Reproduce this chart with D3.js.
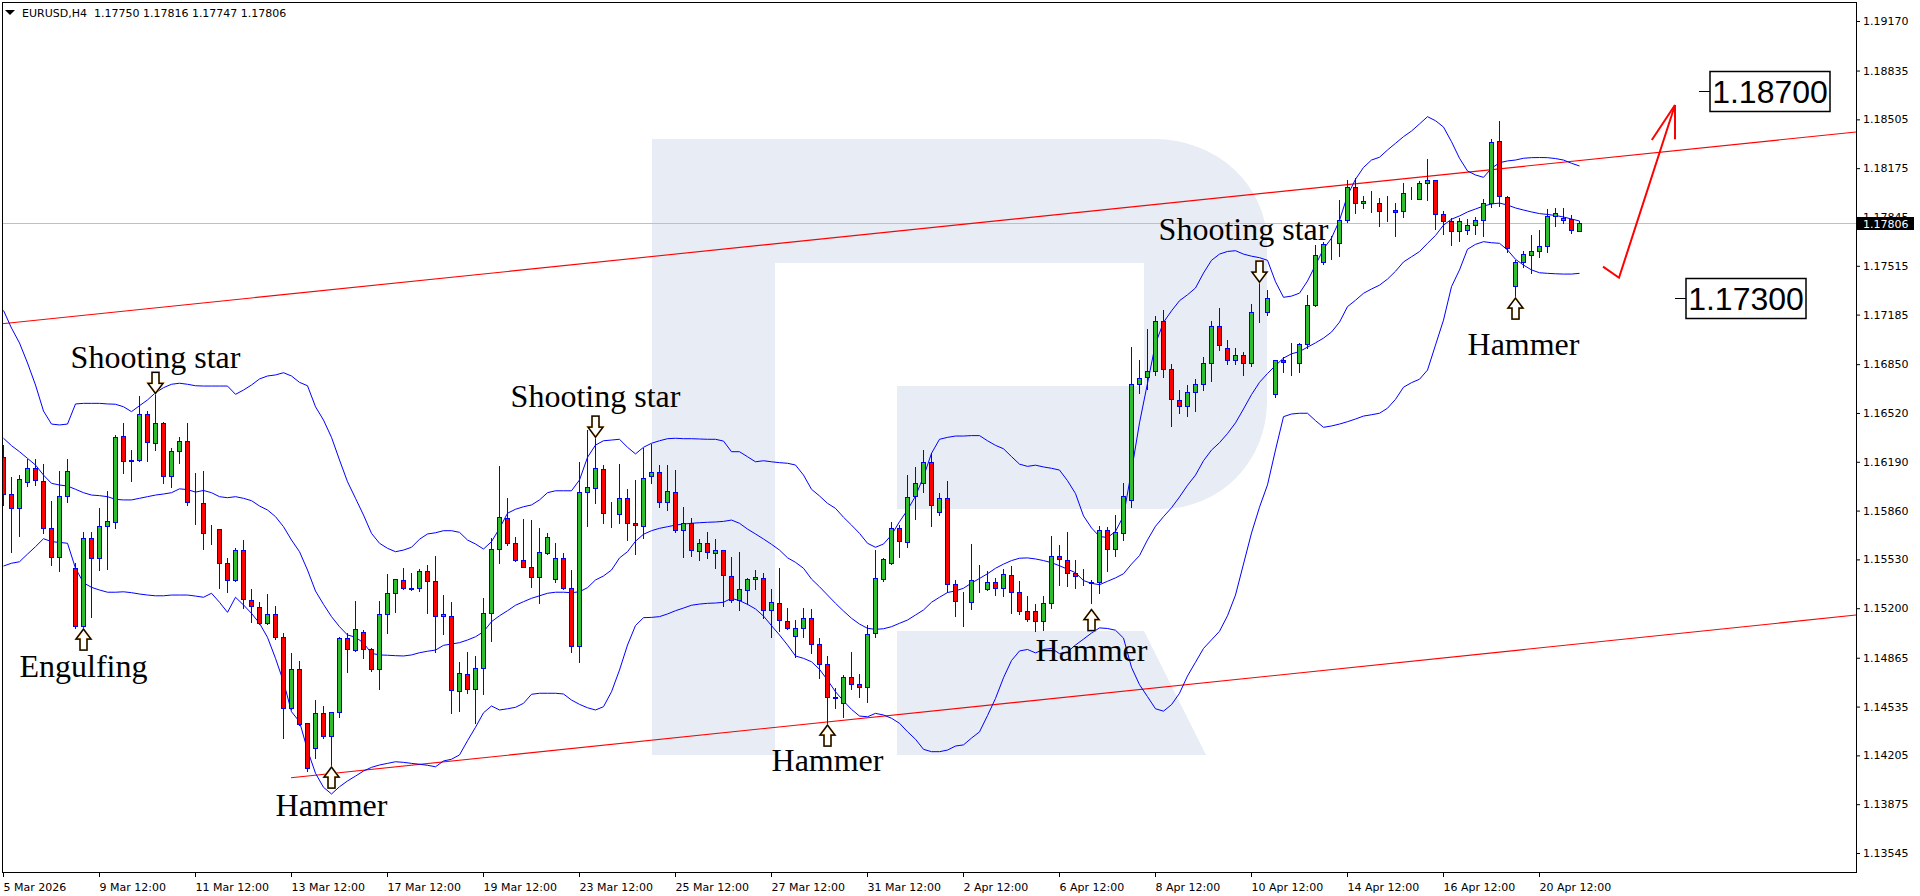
<!DOCTYPE html>
<html>
<head>
<meta charset="utf-8">
<title>EURUSD H4</title>
<script src="https://cdn.jsdelivr.net/npm/d3@7/dist/d3.min.js"></script>
<style>
html,body{margin:0;padding:0;background:#ffffff;overflow:hidden;}
svg{display:block;}
</style>
</head>
<body>
<svg id="chart" width="1920" height="896"></svg>
<script>
// ---------------- DATA ----------------
const symbolName = "EURUSD,H4";
const xTickLabels = ["5 Mar 2026","9 Mar 12:00","11 Mar 12:00","13 Mar 12:00","17 Mar 12:00","19 Mar 12:00","23 Mar 12:00","25 Mar 12:00","27 Mar 12:00","31 Mar 12:00","2 Apr 12:00","6 Apr 12:00","8 Apr 12:00","10 Apr 12:00","14 Apr 12:00","16 Apr 12:00","20 Apr 12:00"];
const xTickBars = [0,12,24,36,48,60,72,84,96,108,120,132,144,156,168,180,192];
const yTickValues = [1.19170,1.18835,1.18505,1.18175,1.17845,1.17515,1.17185,1.16850,1.16520,1.16190,1.15860,1.15530,1.15200,1.14865,1.14535,1.14205,1.13875,1.13545];

const open = [1.16224,1.15970,1.15875,1.16051,1.16146,1.16058,1.15740,1.15544,1.15959,1.15470,
1.15082,1.15673,1.15537,1.15754,1.15781,1.16362,1.16202,1.16202,1.16511,1.16315,
1.16450,1.16094,1.16263,1.16330,1.15918,1.15909,1.15710,1.15733,1.15503,1.15391,
1.15591,1.15255,1.15210,1.15098,1.15159,1.15003,1.14523,1.14787,1.14422,1.14253,
1.14489,1.14338,1.14496,1.14996,1.14917,1.15041,1.14922,1.14787,1.15159,1.15301,
1.15391,1.15334,1.15334,1.15451,1.15384,1.15147,1.15149,1.14642,1.14755,1.14652,
1.14794,1.15170,1.15598,1.15808,1.15643,1.15526,1.15481,1.15409,1.15571,1.15395,
1.15537,1.15334,1.14944,1.15988,1.16015,1.16141,1.15839,1.15835,1.15943,1.15774,
1.15756,1.16094,1.16119,1.15916,1.15984,1.15729,1.15778,1.15587,1.15639,1.15571,
1.15591,1.15418,1.15255,1.15323,1.15395,1.15402,1.15188,1.15233,1.15115,1.15014,
1.15064,1.15132,1.14956,1.14821,1.14598,1.14557,1.14737,1.14685,1.14665,1.15030,
1.15395,1.15503,1.15740,1.15645,1.15959,1.16044,1.16186,1.15852,1.15947,1.15366,
1.15243,1.15243,1.15389,1.15328,1.15375,1.15335,1.15422,1.15308,1.15184,1.15184,
1.15114,1.15238,1.15550,1.15529,1.15440,1.15377,1.15375,1.15375,1.15727,1.15598,
1.15708,1.15929,1.16714,1.16760,1.16807,1.17140,1.16814,1.16609,1.16570,1.16662,
1.16716,1.16856,1.17105,1.16961,1.16877,1.16914,1.16861,1.17205,1.17201,1.16648,
1.16878,1.16858,1.16856,1.16984,1.17250,1.17543,1.17662,1.17667,1.17825,1.18050,
1.17938,1.17938,1.17938,1.17890,1.17894,1.17885,1.18000,1.17969,1.18073,1.18095,
1.17863,1.17818,1.17750,1.17757,1.17791,1.17825,1.17938,1.18359,1.17982,1.17378,
1.17543,1.17588,1.17615,1.17651,1.17854,1.17827,1.17831,1.17750];

const high = [1.16303,1.16089,1.16100,1.16207,1.16207,1.16173,1.15925,1.16128,1.16207,1.15503,
1.15717,1.15717,1.15875,1.15992,1.16371,1.16454,1.16270,1.16635,1.16535,1.16657,
1.16461,1.16281,1.16355,1.16454,1.16112,1.16128,1.15762,1.15737,1.15537,1.15605,
1.15661,1.15328,1.15240,1.15296,1.15217,1.15030,1.14895,1.14843,1.14426,1.14579,
1.14539,1.14500,1.15008,1.15034,1.15251,1.15053,1.14929,1.15251,1.15431,1.15399,
1.15470,1.15440,1.15465,1.15492,1.15553,1.15289,1.15244,1.14834,1.14906,1.14877,
1.15267,1.15673,1.16161,1.15943,1.15683,1.15801,1.15796,1.15740,1.15710,1.15639,
1.15575,1.15458,1.16190,1.16405,1.16355,1.16168,1.15920,1.16175,1.16004,1.16067,
1.16281,1.16308,1.16168,1.16168,1.16134,1.15886,1.15808,1.15666,1.15717,1.15666,
1.15593,1.15548,1.15578,1.15402,1.15458,1.15436,1.15330,1.15470,1.15199,1.15120,
1.15203,1.15192,1.14996,1.14877,1.14658,1.14748,1.14906,1.14753,1.15086,1.15593,
1.15537,1.15785,1.15762,1.16100,1.16157,1.16270,1.16247,1.15981,1.16062,1.15389,
1.15312,1.15633,1.15494,1.15451,1.15405,1.15464,1.15487,1.15382,1.15282,1.15230,
1.15284,1.15690,1.15627,1.15712,1.15527,1.15464,1.15391,1.15759,1.15750,1.15829,
1.16046,1.16965,1.16877,1.17086,1.17175,1.17217,1.16854,1.16674,1.16709,1.16751,
1.16896,1.17140,1.17233,1.17012,1.16961,1.16930,1.17257,1.17396,1.17351,1.16878,
1.16896,1.16991,1.16995,1.17318,1.17656,1.17678,1.17716,1.17960,1.18095,1.18107,
1.17987,1.18023,1.17971,1.17987,1.17938,1.18077,1.18046,1.18090,1.18235,1.18096,
1.17885,1.17836,1.17836,1.17829,1.17847,1.17964,1.18370,1.18494,1.17987,1.17554,
1.17615,1.17723,1.17757,1.17897,1.17904,1.17904,1.17858,1.17816];

const low = [1.15898,1.15582,1.15690,1.16028,1.16033,1.15710,1.15492,1.15453,1.15920,1.15064,
1.15075,1.15143,1.15458,1.15465,1.15744,1.16112,1.16062,1.16197,1.16197,1.16270,
1.16049,1.16021,1.16184,1.15898,1.15769,1.15598,1.15634,1.15334,1.15311,1.15386,
1.15199,1.15109,1.15091,1.15093,1.14990,1.14320,1.14516,1.14410,1.14101,1.14185,
1.14320,1.14120,1.14466,1.14771,1.14913,1.14861,1.14777,1.14652,1.15030,1.15176,
1.15328,1.15323,1.15318,1.15170,1.14906,1.15023,1.14489,1.14507,1.14625,1.14422,
1.14618,1.14980,1.15503,1.15627,1.15521,1.15476,1.15345,1.15237,1.15566,1.15379,
1.15328,1.14906,1.14838,1.15758,1.15909,1.15778,1.15751,1.15778,1.15661,1.15566,
1.15673,1.16044,1.15886,1.15864,1.15713,1.15548,1.15555,1.15526,1.15541,1.15470,
1.15215,1.15244,1.15188,1.15228,1.15330,1.15132,1.15007,1.15048,1.15059,1.14868,
1.15007,1.14899,1.14726,1.14426,1.14527,1.14466,1.14652,1.14598,1.14568,1.15003,
1.15386,1.15499,1.15548,1.15616,1.15801,1.15988,1.15758,1.15830,1.15311,1.15149,
1.15079,1.15196,1.15312,1.15323,1.15289,1.15284,1.15165,1.15161,1.15114,1.15045,
1.15056,1.15202,1.15359,1.15347,1.15335,1.15359,1.15238,1.15301,1.15451,1.15556,
1.15661,1.15883,1.16658,1.16681,1.16775,1.16760,1.16430,1.16523,1.16499,1.16535,
1.16674,1.16739,1.16946,1.16849,1.16854,1.16775,1.16838,1.17133,1.17182,1.16630,
1.16799,1.16777,1.16799,1.16957,1.17245,1.17527,1.17559,1.17581,1.17813,1.17870,
1.17904,1.17881,1.17784,1.17820,1.17716,1.17843,1.17964,1.17964,1.17960,1.17762,
1.17728,1.17656,1.17683,1.17730,1.17728,1.17716,1.17915,1.17919,1.17610,1.17306,
1.17509,1.17468,1.17576,1.17610,1.17784,1.17806,1.17735,1.17747];

const close = [1.15972,1.15875,1.16071,1.16146,1.16067,1.15740,1.15544,1.15959,1.16125,1.15082,
1.15673,1.15537,1.15754,1.15787,1.16355,1.16195,1.16197,1.16511,1.16322,1.16450,
1.16094,1.16263,1.16330,1.15916,1.15916,1.15706,1.15708,1.15503,1.15391,1.15591,
1.15260,1.15215,1.15098,1.15159,1.15003,1.14523,1.14787,1.14415,1.14122,1.14489,
1.14338,1.14496,1.14996,1.14922,1.15057,1.14922,1.14787,1.15159,1.15301,1.15395,
1.15339,1.15332,1.15451,1.15384,1.15147,1.15159,1.14647,1.14760,1.14652,1.14794,
1.15170,1.15598,1.15815,1.15643,1.15526,1.15481,1.15409,1.15582,1.15683,1.15537,
1.15334,1.14944,1.15988,1.16017,1.16146,1.15842,1.15837,1.15943,1.15774,1.15760,
1.16078,1.16119,1.15916,1.15992,1.15729,1.15778,1.15593,1.15639,1.15578,1.15591,
1.15424,1.15255,1.15328,1.15395,1.15409,1.15188,1.15240,1.15120,1.15064,1.15064,
1.15132,1.14956,1.14821,1.14598,1.14595,1.14737,1.14685,1.14665,1.15023,1.15402,
1.15531,1.15740,1.15654,1.15954,1.16044,1.16186,1.15898,1.15947,1.15364,1.15247,
1.15241,1.15389,1.15390,1.15377,1.15335,1.15428,1.15308,1.15184,1.15130,1.15114,
1.15238,1.15550,1.15534,1.15440,1.15417,1.15376,1.15372,1.15731,1.15598,1.15712,
1.15957,1.16714,1.16756,1.16807,1.17140,1.16814,1.16612,1.16565,1.16662,1.16716,
1.16856,1.17105,1.16977,1.16879,1.16914,1.16856,1.17205,1.17203,1.17295,1.16878,
1.16863,1.16857,1.16984,1.17250,1.17588,1.17662,1.17663,1.17825,1.18046,1.17938,
1.17955,1.17937,1.17885,1.17889,1.17879,1.18005,1.18001,1.18073,1.18095,1.17865,
1.17818,1.17750,1.17820,1.17791,1.17825,1.17938,1.18350,1.17987,1.17633,1.17543,
1.17593,1.17615,1.17649,1.17854,1.17870,1.17838,1.17757,1.17806];

// Bollinger bands (20, 2)
const bbUpper = [1.17213,1.17094,1.16993,1.16858,1.16709,1.16533,1.16445,1.16439,1.16445,1.16581,
1.16585,1.16585,1.16585,1.16581,1.16579,1.16562,1.16529,1.16569,1.16608,1.16657,
1.16691,1.16714,1.16721,1.16714,1.16704,1.16702,1.16702,1.16702,1.16702,1.16646,
1.16675,1.16709,1.16750,1.16770,1.16777,1.16792,1.16770,1.16727,1.16704,1.16562,
1.16472,1.16355,1.16202,1.16055,1.15943,1.15830,1.15706,1.15639,1.15605,1.15582,
1.15593,1.15612,1.15666,1.15702,1.15710,1.15724,1.15724,1.15713,1.15661,1.15634,
1.15600,1.15650,1.15740,1.15842,1.15869,1.15886,1.15898,1.15932,1.15981,1.15994,
1.15994,1.15994,1.16067,1.16220,1.16303,1.16332,1.16337,1.16342,1.16288,1.16243,
1.16288,1.16315,1.16332,1.16346,1.16349,1.16346,1.16346,1.16344,1.16342,1.16342,
1.16330,1.16258,1.16258,1.16224,1.16190,1.16197,1.16190,1.16184,1.16180,1.16168,
1.16100,1.16004,1.15959,1.15909,1.15875,1.15815,1.15762,1.15706,1.15639,1.15612,
1.15634,1.15695,1.15785,1.15864,1.15958,1.16089,1.16247,1.16342,1.16355,1.16364,
1.16364,1.16367,1.16367,1.16332,1.16301,1.16278,1.16225,1.16174,1.16159,1.16167,
1.16155,1.16146,1.16134,1.16062,1.15975,1.15824,1.15743,1.15685,1.15678,1.15719,
1.15824,1.16128,1.16453,1.16721,1.16988,1.17133,1.17210,1.17279,1.17319,1.17365,
1.17466,1.17552,1.17594,1.17612,1.17617,1.17594,1.17580,1.17570,1.17552,1.17407,
1.17302,1.17310,1.17330,1.17412,1.17520,1.17629,1.17702,1.17823,1.17990,1.18100,
1.18180,1.18230,1.18249,1.18298,1.18343,1.18388,1.18426,1.18474,1.18523,1.18496,
1.18453,1.18354,1.18242,1.18156,1.18129,1.18113,1.18174,1.18212,1.18224,1.18230,
1.18242,1.18246,1.18247,1.18246,1.18240,1.18230,1.18208,1.18190];

const bbMiddle = [1.16349,1.16299,1.16258,1.16213,1.16168,1.16100,1.16044,1.16033,1.16026,1.16004,
1.15981,1.15965,1.15961,1.15954,1.15936,1.15932,1.15932,1.15943,1.15954,1.15965,
1.15972,1.15981,1.16007,1.16002,1.15985,1.15996,1.15981,1.15954,1.15947,1.15954,
1.15943,1.15927,1.15891,1.15864,1.15819,1.15751,1.15661,1.15582,1.15458,1.15316,
1.15226,1.15143,1.15075,1.15019,1.15004,1.14965,1.14895,1.14884,1.14882,1.14879,
1.14877,1.14884,1.14899,1.14909,1.14917,1.14949,1.14958,1.14967,1.14985,1.15007,
1.15041,1.15109,1.15149,1.15183,1.15220,1.15244,1.15267,1.15284,1.15301,1.15308,
1.15308,1.15305,1.15311,1.15339,1.15391,1.15418,1.15458,1.15540,1.15582,1.15653,
1.15700,1.15724,1.15740,1.15751,1.15762,1.15769,1.15774,1.15778,1.15781,1.15783,
1.15787,1.15796,1.15774,1.15735,1.15702,1.15668,1.15632,1.15593,1.15541,1.15510,
1.15470,1.15397,1.15345,1.15289,1.15233,1.15181,1.15132,1.15093,1.15064,1.15057,
1.15061,1.15075,1.15098,1.15120,1.15154,1.15188,1.15240,1.15274,1.15306,1.15317,
1.15335,1.15370,1.15401,1.15433,1.15470,1.15498,1.15522,1.15538,1.15540,1.15533,
1.15522,1.15508,1.15487,1.15464,1.15440,1.15387,1.15368,1.15359,1.15382,1.15405,
1.15433,1.15498,1.15556,1.15662,1.15754,1.15819,1.15879,1.15952,1.16031,1.16100,
1.16197,1.16269,1.16319,1.16381,1.16453,1.16547,1.16644,1.16727,1.16787,1.16841,
1.16891,1.16920,1.16935,1.16965,1.16994,1.17026,1.17067,1.17134,1.17239,1.17282,
1.17329,1.17358,1.17384,1.17425,1.17478,1.17541,1.17576,1.17611,1.17667,1.17720,
1.17790,1.17830,1.17852,1.17879,1.17899,1.17919,1.17933,1.17939,1.17926,1.17906,
1.17892,1.17879,1.17868,1.17862,1.17855,1.17845,1.17831,1.17818];

const bbLower = [1.15485,1.15504,1.15514,1.15566,1.15616,1.15670,1.15650,1.15645,1.15639,1.15470,
1.15372,1.15341,1.15323,1.15308,1.15308,1.15311,1.15305,1.15296,1.15289,1.15284,
1.15284,1.15289,1.15289,1.15289,1.15282,1.15274,1.15301,1.15240,1.15172,1.15274,
1.15222,1.15165,1.15098,1.15003,1.14861,1.14703,1.14500,1.14433,1.14241,1.14084,
1.13989,1.13944,1.13993,1.14032,1.14065,1.14099,1.14124,1.14140,1.14151,1.14162,
1.14158,1.14151,1.14145,1.14138,1.14128,1.14167,1.14179,1.14208,1.14304,1.14395,
1.14493,1.14539,1.14512,1.14520,1.14530,1.14557,1.14618,1.14625,1.14625,1.14625,
1.14620,1.14579,1.14550,1.14527,1.14512,1.14534,1.14635,1.14782,1.14951,1.15083,
1.15136,1.15138,1.15143,1.15161,1.15183,1.15201,1.15220,1.15228,1.15233,1.15235,
1.15240,1.15267,1.15251,1.15226,1.15195,1.15147,1.15082,1.15019,1.14951,1.14877,
1.14861,1.14838,1.14787,1.14714,1.14635,1.14573,1.14516,1.14471,1.14466,1.14489,
1.14478,1.14456,1.14422,1.14365,1.14314,1.14246,1.14230,1.14230,1.14241,1.14268,
1.14276,1.14322,1.14364,1.14474,1.14590,1.14730,1.14846,1.14911,1.14921,1.14898,
1.14921,1.14928,1.14893,1.14905,1.14951,1.14991,1.15032,1.15067,1.15063,1.15051,
1.14998,1.14800,1.14683,1.14602,1.14520,1.14504,1.14548,1.14625,1.14742,1.14835,
1.14928,1.14986,1.15044,1.15149,1.15289,1.15499,1.15708,1.15883,1.16034,1.16270,
1.16495,1.16513,1.16518,1.16518,1.16468,1.16423,1.16432,1.16445,1.16461,1.16479,
1.16499,1.16508,1.16518,1.16552,1.16612,1.16694,1.16725,1.16748,1.16810,1.16979,
1.17148,1.17374,1.17487,1.17627,1.17660,1.17678,1.17671,1.17667,1.17622,1.17559,
1.17520,1.17487,1.17468,1.17464,1.17461,1.17459,1.17459,1.17464];

// Trend channel lines (bar index, price)
const upperLineBars = [0, 197];
const upperLinePrices = [1.17124, 1.18226];
const lowerLineBars = [36, 197];
const lowerLinePrices = [1.14054, 1.14959];

// Forecast path
const forecastBars = [200, 202, 209];
const forecastPrices = [1.17509, 1.17434, 1.18602];
const forecastHeadBars = [206.1, 209];
const forecastHeadPrices = [1.18365, 1.18370];

// Target price labels
const targetPrices = [1.18700, 1.17300];
const targetBars = [212, 209];

// Candle pattern annotations
const patternNames = ["Shooting star","Engulfing","Hammer","Shooting star","Hammer","Hammer","Shooting star","Hammer"];
const patternArrowBars = [19, 10, 41, 74, 103, 136, 157, 189];
const patternArrowPrices = [1.16653, 1.15059, 1.14126, 1.16357, 1.14410, 1.15191, 1.17405, 1.17297];
const patternArrowDirs = ["down","up","up","down","up","up","down","up"];
const patternLabelBars = [19, 10, 41, 74, 103, 136, 155, 190];
const patternLabelPrices = [1.16824, 1.14735, 1.13795, 1.16560, 1.14099, 1.14846, 1.17689, 1.16912];

// ---------------- DRAW ----------------
const svg = d3.select("#chart");
const PL = 2, PR = 1856, PT = 2, PB = 872;
const AXIS_FONT = "DejaVu Sans";

const x = d3.scaleLinear().domain([0, 197]).range([3, 1579]);
const y = d3.scaleLinear().domain([1.13545, 1.19170]).range([853, 21]);
const fmt = d3.format(".5f");

svg.append("rect").attr("width", 1920).attr("height", 896).attr("fill", "#ffffff");

svg.append("defs").append("clipPath").attr("id", "plotClip")
  .append("rect").attr("x", PL).attr("y", PT).attr("width", PR - PL).attr("height", PB - PT);

const plot = svg.append("g").attr("clip-path", "url(#plotClip)");

// watermark logo
const wmColor = "#e8ecf4";
plot.append("path")
  .attr("d", "M652,139 H1155 A112,104 0 0 1 1267,243 V402 A105,107 0 0 1 1162,509 H897 V386 H1144 V263 H775 V755 H652 Z")
  .attr("fill", wmColor);
plot.append("path").attr("d", "M897,631 H1144 L1206,755 H897 Z").attr("fill", wmColor);

// current price line
const lastClose = close[close.length - 1];
plot.append("line")
  .attr("x1", PL).attr("x2", PR)
  .attr("y1", Math.round(y(lastClose)) + 0.5).attr("y2", Math.round(y(lastClose)) + 0.5)
  .attr("stroke", "#c0c0c0").attr("stroke-width", 1);

// channel lines
function extendLine(bars, prices, fromX, toX) {
  const x1 = x(bars[0]), y1 = y(prices[0]), x2 = x(bars[1]), y2 = y(prices[1]);
  const m = (y2 - y1) / (x2 - x1);
  return [[fromX, y1 + m * (fromX - x1)], [toX, y1 + m * (toX - x1)]];
}
const up = extendLine(upperLineBars, upperLinePrices, PL, PR);
plot.append("line").attr("x1", up[0][0]).attr("y1", up[0][1]).attr("x2", up[1][0]).attr("y2", up[1][1])
  .attr("stroke", "#ff0000").attr("stroke-width", 1.1);
const lo = extendLine(lowerLineBars, lowerLinePrices, x(lowerLineBars[0]), PR);
plot.append("line").attr("x1", lo[0][0]).attr("y1", lo[0][1]).attr("x2", lo[1][0]).attr("y2", lo[1][1])
  .attr("stroke", "#ff0000").attr("stroke-width", 1.1);

// Bollinger bands
const bandLine = d3.line().x((d, i) => x(i) + 0.5).y(d => y(d));
[bbUpper, bbMiddle, bbLower].forEach(arr => {
  plot.append("path").attr("d", bandLine(arr)).attr("fill", "none")
    .attr("stroke", "#0000ff").attr("stroke-width", 1);
});

// candles
const idx = d3.range(open.length);
const cg = plot.append("g").attr("shape-rendering", "crispEdges");
cg.selectAll("line.wick").data(idx).join("line").attr("class", "wick")
  .attr("x1", i => Math.round(x(i)) + 0.5).attr("x2", i => Math.round(x(i)) + 0.5)
  .attr("y1", i => Math.round(y(high[i]))).attr("y2", i => Math.round(y(low[i])) + 1)
  .attr("stroke", "#0000ff").attr("stroke-width", 1);
cg.selectAll("rect.body").data(idx).join("rect").attr("class", "body")
  .attr("x", i => Math.round(x(i)) - 1.5)
  .attr("width", 4)
  .attr("y", i => Math.round(y(Math.max(open[i], close[i]))) + 0.5)
  .attr("height", i => Math.max(0, Math.round(y(Math.min(open[i], close[i]))) - Math.round(y(Math.max(open[i], close[i])))))
  .attr("fill", i => close[i] > open[i] ? "#2ebd2e" : (close[i] < open[i] ? "#ff0000" : "#0000ff"))
  .attr("stroke", "#0000ff").attr("stroke-width", 1);

// forecast arrow
const fLine = d3.line().x((d, i) => x(forecastBars[i])).y(d => y(d));
plot.append("path").attr("d", fLine(forecastPrices)).attr("fill", "none")
  .attr("stroke", "#ff0000").attr("stroke-width", 2).attr("stroke-linejoin", "miter");
const tipX = x(forecastBars[forecastBars.length - 1]), tipY = y(forecastPrices[forecastPrices.length - 1]);
forecastHeadBars.forEach((b, i) => {
  plot.append("line").attr("x1", tipX).attr("y1", tipY)
    .attr("x2", x(b)).attr("y2", y(forecastHeadPrices[i]))
    .attr("stroke", "#ff0000").attr("stroke-width", 2);
});

// target labels
const labelFont = "Liberation Sans";
targetPrices.forEach((p, i) => {
  const lx = x(targetBars[i]), ly = Math.round(y(p)) + 0.5;
  plot.append("line").attr("x1", lx).attr("x2", lx + 11).attr("y1", ly).attr("y2", ly)
    .attr("stroke", "#000").attr("stroke-width", 1);
  plot.append("text").attr("x", lx + 11 + 60).attr("y", ly + 11.5)
    .attr("text-anchor", "middle").attr("font-family", labelFont).attr("font-size", 32)
    .attr("fill", "#000").text(fmt(p));
  plot.append("rect").attr("x", lx + 11).attr("y", ly - 20).attr("width", 120).attr("height", 40)
    .attr("fill", "none").attr("stroke", "#000").attr("stroke-width", 1.5);
});

// pattern arrows
function arrowPath(tx, ty, dir) {
  const s = dir === "up" ? 1 : -1;
  return `M${tx},${ty} L${tx + 7.5},${ty + s * 10} L${tx + 3.5},${ty + s * 10} L${tx + 3.5},${ty + s * 21} ` +
         `L${tx - 3.5},${ty + s * 21} L${tx - 3.5},${ty + s * 10} L${tx - 7.5},${ty + s * 10} Z`;
}
patternArrowBars.forEach((b, i) => {
  const tx = Math.round(x(b)) + 0.5, ty = y(patternArrowPrices[i]);
  plot.append("path").attr("d", arrowPath(tx, ty, patternArrowDirs[i]))
    .attr("fill", "#ffffff").attr("stroke", "#e0a040").attr("stroke-width", 1.9).attr("stroke-linejoin", "miter");
  plot.append("path").attr("d", arrowPath(tx, ty, patternArrowDirs[i]))
    .attr("fill", "none").attr("stroke", "#000").attr("stroke-width", 1.3).attr("stroke-linejoin", "miter");
});

// pattern labels
patternNames.forEach((name, i) => {
  plot.append("text").attr("x", x(patternLabelBars[i]) + 0.5).attr("y", y(patternLabelPrices[i]))
    .attr("text-anchor", "middle").attr("font-family", "Liberation Serif").attr("font-size", 32)
    .attr("fill", "#000").text(name);
});

// header
const hdr = svg.append("g");
hdr.append("path").attr("d", "M5,10 L15,10 L10,15 Z").attr("fill", "#000");
hdr.append("text").attr("x", 22).attr("y", 17).attr("font-family", AXIS_FONT).attr("font-size", 11)
  .attr("fill", "#000").style("white-space", "pre")
  .text(`${symbolName}  ${fmt(open[197])} ${fmt(high[197])} ${fmt(low[197])} ${fmt(close[197])}`);

// axes
const yAxis = d3.axisRight(y).tickValues(yTickValues).tickFormat(fmt).tickSize(4).tickSizeOuter(0);
const ya = svg.append("g").attr("transform", `translate(${PR},0)`).call(yAxis)
  .attr("font-family", AXIS_FONT).attr("font-size", 11);
ya.select(".domain").remove();
ya.selectAll(".tick line").attr("stroke", "#000");
ya.selectAll(".tick text").attr("fill", "#000").attr("x", 7);

const xAxis = d3.axisBottom(x).tickValues(xTickBars).tickFormat((d, i) => xTickLabels[i]).tickSize(5).tickSizeOuter(0);
const xa = svg.append("g").attr("transform", `translate(0,${PB})`).call(xAxis)
  .attr("font-family", AXIS_FONT).attr("font-size", 11);
xa.select(".domain").remove();
xa.selectAll(".tick line").attr("stroke", "#000");
xa.selectAll(".tick text").attr("fill", "#000").attr("text-anchor", "start").attr("x", 0).attr("y", 11);

// frame
svg.append("rect").attr("x", PL + 0.5).attr("y", PT + 0.5).attr("width", PR - PL).attr("height", PB - PT)
  .attr("fill", "none").attr("stroke", "#000").attr("stroke-width", 1).attr("shape-rendering", "crispEdges");

// current price tag
const cy = Math.round(y(lastClose)) + 0.5;
svg.append("rect").attr("x", PR + 1).attr("y", cy - 6.5).attr("width", 57).attr("height", 13).attr("fill", "#000");
svg.append("text").attr("x", PR + 7).attr("y", cy + 4).attr("font-family", AXIS_FONT).attr("font-size", 11)
  .attr("fill", "#fff").text(fmt(lastClose));
</script>
</body>
</html>
